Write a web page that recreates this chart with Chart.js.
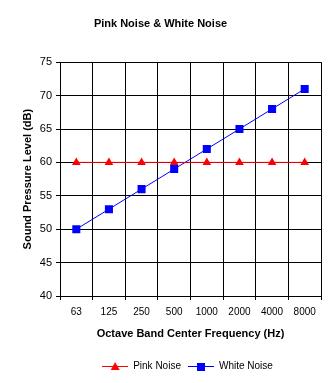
<!DOCTYPE html>
<html>
<head>
<meta charset="utf-8">
<script src="https://cdn.jsdelivr.net/npm/chart.js@4.4.1/dist/chart.umd.min.js"></script>
<style>
  html, body { margin: 0; padding: 0; background: #fff; }
</style>
</head>
<body>
<canvas id="chart" width="335" height="383"></canvas>
<script>
// Values
const frequencies = ['63', '125', '250', '500', '1000', '2000', '4000', '8000'];
const pinkNoise = [60, 60, 60, 60, 60, 60, 60, 60];
const whiteNoise = [50, 53, 56, 59, 62, 65, 68, 71];
const yMin = 40;
const yMax = 75;
const yStep = 5;

const FONT = "'Liberation Sans', Arial, sans-serif";

// Excel-like legend key: short line with the marker in the middle
function legendIcon(color, shape) {
  const c = document.createElement('canvas');
  c.width = 26;
  c.height = 10;
  const g = c.getContext('2d');
  g.strokeStyle = color;
  g.lineWidth = 1;
  g.beginPath();
  g.moveTo(0, 5.5);
  g.lineTo(26, 5.5);
  g.stroke();
  g.fillStyle = color;
  if (shape === 'triangle') {
    g.beginPath();
    g.moveTo(13, 1);
    g.lineTo(17.5, 9);
    g.lineTo(8.5, 9);
    g.closePath();
    g.fill();
  } else {
    g.fillRect(9, 2, 8, 8);
  }
  return c;
}

const icons = [legendIcon('#ff0000', 'triangle'), legendIcon('#0000ff', 'rect')];

// the original legend sits a bit right of centre
const legendShift = {
  id: 'legendShift',
  afterLayout(chart) {
    chart.legend.left += 27;
    chart.legend.right += 27;
  }
};

new Chart(document.getElementById('chart'), {
  type: 'line',
  data: {
    labels: frequencies,
    datasets: [
      {
        label: 'Pink Noise',
        data: pinkNoise,
        borderColor: '#ff0000',
        backgroundColor: '#ff0000',
        borderWidth: 1,
        pointStyle: 'triangle',
        pointRadius: 5,
        pointBorderWidth: 0,
        tension: 0
      },
      {
        label: 'White Noise',
        data: whiteNoise,
        borderColor: '#0000ff',
        backgroundColor: '#0000ff',
        borderWidth: 1,
        pointStyle: 'rect',
        pointRadius: 5.7,
        pointBorderWidth: 0,
        tension: 0
      }
    ]
  },
  options: {
    responsive: false,
    animation: false,
    layout: {
      padding: { left: 0, right: 14, top: 0, bottom: 2 }
    },
    scales: {
      x: {
        type: 'category',
        offset: true,
        grid: { offset: true, color: '#000', tickLength: 4, tickColor: '#000' },
        border: { color: '#000' },
        ticks: { color: '#000', font: { family: FONT, size: 10 }, padding: 6, maxRotation: 0, autoSkip: false },
        title: {
          display: true,
          text: 'Octave Band Center Frequency (Hz)',
          color: '#000',
          font: { family: FONT, size: 11, weight: 'bold' },
          padding: { top: 4, bottom: 13 }
        },
        afterFit: (scale) => { scale.height = 58; }
      },
      y: {
        min: yMin,
        max: yMax,
        grid: { color: '#000', tickLength: 4, tickColor: '#000' },
        border: { color: '#000' },
        ticks: { stepSize: yStep, color: '#000', font: { family: FONT, size: 11 }, padding: 4 },
        title: {
          display: true,
          text: 'Sound Pressure Level (dB)',
          color: '#000',
          font: { family: FONT, size: 11, weight: 'bold' },
          padding: { top: 21, bottom: 0 }
        },
        afterFit: (scale) => { scale.width = 60; }
      }
    },
    plugins: {
      title: {
        display: true,
        text: 'Pink Noise & White Noise',
        color: '#000',
        font: { family: FONT, size: 11, weight: 'bold' },
        padding: { top: 17, bottom: 32 }
      },
      legend: {
        position: 'bottom',
        labels: {
          color: '#000',
          font: { family: FONT, size: 10 },
          usePointStyle: true,
          pointStyleWidth: 26,
          boxHeight: 10,
          padding: 7,
          generateLabels: (chart) => {
            const items = Chart.defaults.plugins.legend.labels.generateLabels(chart);
            items.forEach((item, i) => { item.pointStyle = icons[i]; });
            return items;
          }
        }
      },
      tooltip: { enabled: false }
    }
  },
  plugins: [legendShift]
});
</script>
</body>
</html>
